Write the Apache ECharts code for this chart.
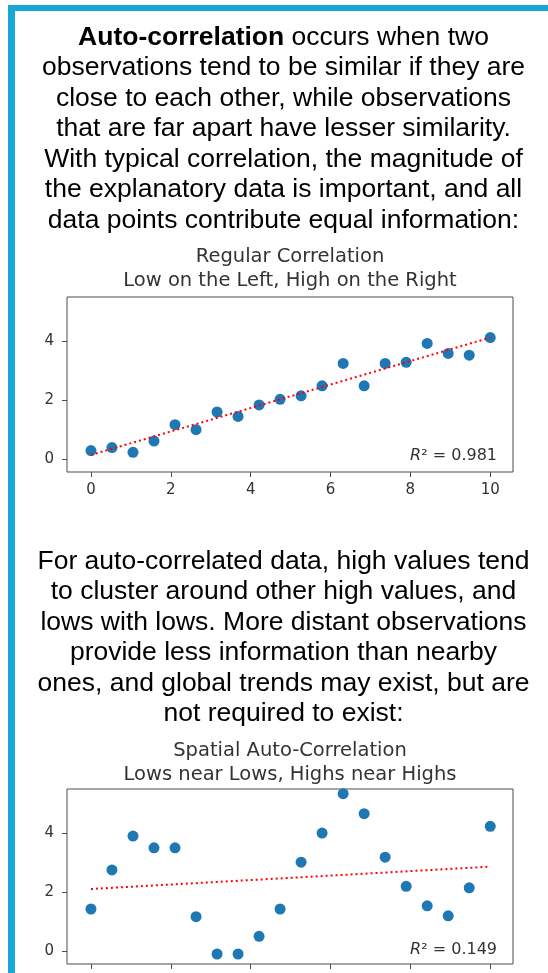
<!DOCTYPE html>
<html>
<head>
<meta charset="utf-8">
<script src="https://cdn.jsdelivr.net/npm/echarts@6/dist/echarts.min.js"></script>
<style>
  html, body { margin: 0; padding: 0; background: #fff; }
  #chart { width: 548px; height: 973px; }
</style>
</head>
<body>
<div id="chart"></div>
<script>
// x positions shared by both panels
const xValues = [0, 0.526, 1.053, 1.579, 2.105, 2.632, 3.158, 3.684, 4.211, 4.737,
  5.263, 5.789, 6.316, 6.842, 7.368, 7.895, 8.421, 8.947, 9.474, 10];
// panel 1: regular correlation
const regularY = [0.28, 0.38, 0.22, 0.60, 1.16, 0.99, 1.59, 1.44, 1.83, 2.02,
  2.14, 2.48, 3.24, 2.48, 3.24, 3.28, 3.92, 3.58, 3.52, 4.12];
// panel 2: spatial auto-correlation
const spatialY = [1.42, 2.75, 3.90, 3.50, 3.50, 1.16, -0.11, -0.11, 0.49, 1.42,
  3.01, 4.00, 5.34, 4.66, 3.18, 2.19, 1.53, 1.19, 2.14, 4.23];
// fitted trend lines (start at x=0, end at x=10)
const trendX = [0, 10];
const regularTrend = [0.13, 4.12];
const spatialTrend = [2.10, 2.86];
const r2Labels = ['0.981', '0.149'];
const xTicks = [0, 2, 4, 6, 8, 10];
const yTicks = [0, 2, 4];
const panelTitles = [
  'Regular Correlation\nLow on the Left, High on the Right',
  'Spatial Auto-Correlation\nLows near Lows, Highs near Highs'
];

const para1 = '{b|Auto-correlation} occurs when two\n' +
  'observations tend to be similar if they are\n' +
  'close to each other, while observations\n' +
  'that are far apart have lesser similarity.\n' +
  'With typical correlation, the magnitude of\n' +
  'the explanatory data is important, and all\n' +
  'data points contribute equal information:';
const para2 = 'For auto-correlated data, high values tend\n' +
  'to cluster around other high values, and\n' +
  'lows with lows. More distant observations\n' +
  'provide less information than nearby\n' +
  'ones, and global trends may exist, but are\n' +
  'not required to exist:';

const chart = echarts.init(document.getElementById('chart'));

const axisColor = '#4d4d4d';
const textColor = '#333';
const mplFont = 'DejaVu Sans';
const grids = [
  {left: 67, top: 297, width: 446, height: 175},
  {left: 67, top: 789, width: 446, height: 175}
];

function toPairs(xs, ys) {
  return ys.map((y, i) => [xs[i], y]);
}

let option = {
  animation: false,
  title: panelTitles.map((t, i) => ({
    text: t,
    left: 290,
    top: i === 0 ? 245 : 739,
    textAlign: 'center',
    padding: 0,
    textStyle: {
      fontFamily: mplFont,
      fontWeight: 'normal',
      fontSize: 19.5,
      lineHeight: 24,
      color: textColor
    }
  })),
  grid: grids.map(g => Object.assign({
    show: true,
    borderColor: axisColor,
    borderWidth: 1,
    backgroundColor: 'transparent'
  }, g)),
  xAxis: [0, 1].map(i => ({
    type: 'value',
    gridIndex: i,
    min: -0.6,
    max: 10.57,
    axisLine: {show: false, onZero: false},
    splitLine: {show: false},
    axisTick: {show: true, length: 5, customValues: xTicks, lineStyle: {color: axisColor}},
    axisLabel: {
      show: i === 0,
      customValues: xTicks,
      margin: 11,
      fontFamily: mplFont,
      fontSize: 15,
      color: textColor
    }
  })),
  yAxis: [0, 1].map(i => ({
    type: 'value',
    gridIndex: i,
    min: -0.45,
    max: 5.5,
    axisLine: {show: false, onZero: false},
    splitLine: {show: false},
    axisTick: {show: true, length: 5, customValues: yTicks, lineStyle: {color: axisColor}},
    axisLabel: {
      customValues: yTicks,
      margin: 13,
      fontFamily: mplFont,
      fontSize: 15,
      color: textColor
    }
  })),
  series: [
    {
      type: 'scatter',
      xAxisIndex: 0, yAxisIndex: 0,
      data: toPairs(xValues, regularY),
      symbolSize: 11,
      itemStyle: {color: '#1f77b4', opacity: 1},
      z: 2
    },
    {
      type: 'line',
      xAxisIndex: 0, yAxisIndex: 0,
      data: toPairs(trendX, regularTrend),
      symbol: 'none',
      lineStyle: {color: '#ff0000', width: 2, type: [2, 3]},
      z: 3
    },
    {
      type: 'scatter',
      xAxisIndex: 1, yAxisIndex: 1,
      data: toPairs(xValues, spatialY),
      symbolSize: 11,
      itemStyle: {color: '#1f77b4', opacity: 1},
      z: 2
    },
    {
      type: 'line',
      xAxisIndex: 1, yAxisIndex: 1,
      data: toPairs(trendX, spatialTrend),
      symbol: 'none',
      lineStyle: {color: '#ff0000', width: 2, type: [2, 3]},
      z: 3
    }
  ],
  graphic: [
    // blue frame on the left and top
    {type: 'rect', left: 8, top: 5, shape: {width: 7, height: 968}, style: {fill: '#17a8d8'}},
    {type: 'rect', left: 8, top: 5, shape: {width: 540, height: 6}, style: {fill: '#17a8d8'}},
    {
      type: 'text', x: 283.5, y: 22,
      style: {
        text: para1,
        align: 'center',
        verticalAlign: 'top',
        fontFamily: 'Liberation Sans',
        fontSize: 26.5,
        lineHeight: 30.5,
        fill: '#000',
        rich: {
          b: {fontFamily: 'Liberation Sans', fontWeight: 'bold', fontSize: 26.5, lineHeight: 30.5, fill: '#000'}
        }
      }
    },
    {
      type: 'text', x: 283.5, y: 546,
      style: {
        text: para2,
        align: 'center',
        verticalAlign: 'top',
        fontFamily: 'Liberation Sans',
        fontSize: 26.5,
        lineHeight: 30.5,
        fill: '#000'
      }
    }
  ].concat(r2Labels.map((v, i) => ({
    type: 'text',
    x: 497,
    y: i === 0 ? 456 : 950,
    style: {
      text: '{i|R}{n|² = ' + v + '}',
      align: 'right',
      verticalAlign: 'middle',
      rich: {
        i: {fontFamily: mplFont, fontStyle: 'italic', fontSize: 16, fill: textColor},
        n: {fontFamily: mplFont, fontSize: 16, fill: textColor}
      }
    }
  })))
};

chart.setOption(option);
window.addEventListener('resize', function () {
  chart.resize();
});
</script>
</body>
</html>
